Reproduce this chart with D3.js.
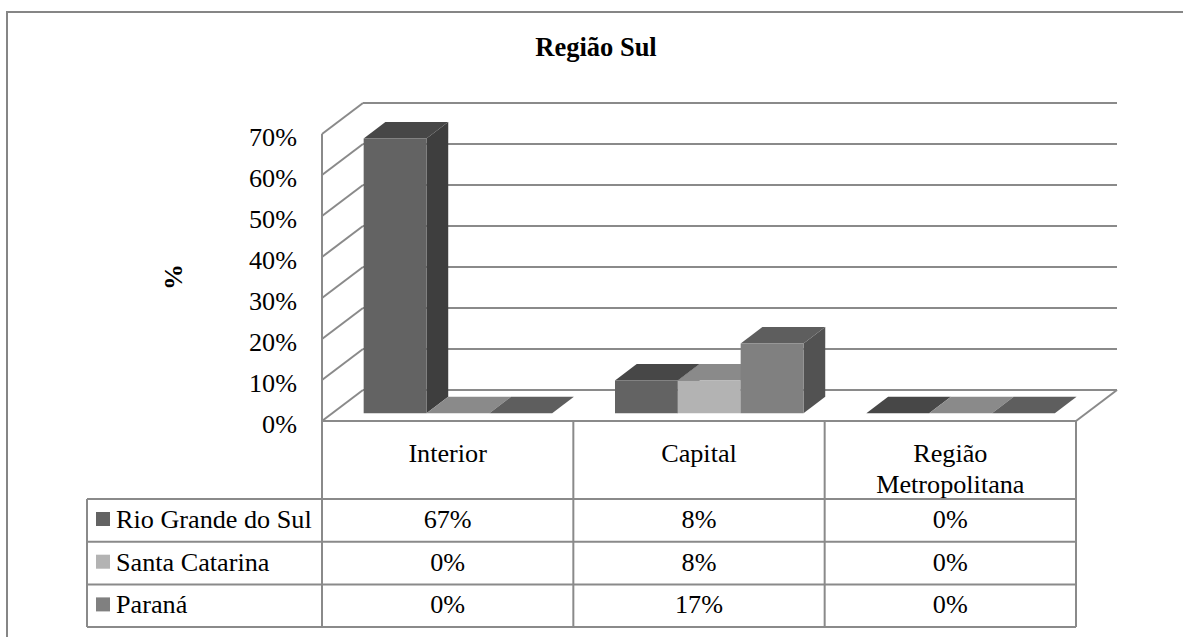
<!DOCTYPE html>
<html>
<head>
<meta charset="utf-8">
<script src="https://cdn.jsdelivr.net/npm/d3@7"></script>
<style>
  html, body { margin: 0; padding: 0; background: #fff; }
  svg { display: block; }
</style>
</head>
<body>
<svg id="chart" width="1183" height="637"></svg>
<script>
// Categories, series and values (shares of the total)
const categories = ["Interior", "Capital", "Região Metropolitana"];
const seriesNames = ["Rio Grande do Sul", "Santa Catarina", "Paraná"];
const rioGrandeDoSul = [0.67, 0.08, 0];
const santaCatarina = [0, 0.08, 0];
const parana = [0, 0.17, 0];
const yTicks = [0, 0.1, 0.2, 0.3, 0.4, 0.5, 0.6, 0.7];
const chartTitle = "Região Sul";
const yAxisTitle = "%";

const seriesValues = [rioGrandeDoSul, santaCatarina, parana];
const frontColors = ["#636363", "#b3b3b3", "#808080"];
const sideColors = ["#3e3e3e", "#8c8c8c", "#525252"];
const topColors = ["#474747", "#8a8a8a", "#5e5e5e"];
const lineColor = "#8a8a8a";
const FONT = "Liberation Serif";
const FS = 26.2;

const svg = d3.select("#chart");
const fmt = d3.format(".0%");
const label = (sel) => sel.append("text").style("font-family", FONT).attr("fill", "#000");

// Front plane of the 3D plot
const plotLeft = 322, plotRight = 1076, floorY = 421;
const DX = 41, DY = 31;           // depth projection of the walls
const fFront = 0.25, fBack = 0.78; // depth slot occupied by bars

const x0 = d3.scaleBand().domain(categories).range([plotLeft, plotRight]).padding(0);
const x1 = d3.scaleBand().domain(seriesNames).range([0, x0.bandwidth()])
  .paddingInner(0).paddingOuter(0.5);
const y = d3.scaleLinear().domain([0, 0.7]).range([floorY, 134]);

// Outer frame
svg.append("rect")
  .attr("x", 7).attr("y", 12).attr("width", 1200).attr("height", 700)
  .attr("fill", "none").attr("stroke", "#868686").attr("stroke-width", 2);

// Title
label(svg)
  .attr("x", 596).attr("y", 56)
  .attr("text-anchor", "middle")
  .attr("font-size", 26.5).attr("font-weight", "bold")
  .text(chartTitle);

// Axis title
label(svg)
  .attr("transform", "translate(182,277) rotate(-90)")
  .attr("text-anchor", "middle")
  .attr("font-size", 26).attr("font-weight", "bold")
  .text(yAxisTitle);

// Walls: back gridlines and left-wall diagonals
const walls = svg.append("g").attr("stroke", lineColor).attr("stroke-width", 2).attr("fill", "none");
yTicks.forEach(t => {
  const yy = y(t);
  walls.append("line")
    .attr("x1", plotLeft + DX).attr("y1", yy - DY)
    .attr("x2", plotRight + DX).attr("y2", yy - DY);
  walls.append("line")
    .attr("x1", plotLeft).attr("y1", yy)
    .attr("x2", plotLeft + DX).attr("y2", yy - DY);
});
// Front vertical axis
walls.append("line")
  .attr("x1", plotLeft).attr("y1", y(0.7))
  .attr("x2", plotLeft).attr("y2", floorY);
// Floor front edge and right diagonal
walls.append("line")
  .attr("x1", plotLeft).attr("y1", floorY)
  .attr("x2", plotRight).attr("y2", floorY);
walls.append("line")
  .attr("x1", plotRight).attr("y1", floorY)
  .attr("x2", plotRight + DX).attr("y2", floorY - DY);

// Y tick labels
const tickG = svg.append("g");
yTicks.forEach(d => {
  label(tickG)
    .attr("x", 297).attr("y", y(d))
    .attr("dy", "0.45em")
    .attr("text-anchor", "end")
    .attr("font-size", FS)
    .text(fmt(d));
});

// 3D bars, drawn left to right so later fronts cover earlier sides
const bars = svg.append("g");
categories.forEach((cat, ci) => {
  seriesNames.forEach((s, si) => {
    const v = seriesValues[si][ci];
    const xl = x0(cat) + x1(s);
    const xr = xl + x1.bandwidth();
    const yb = y(0), yt = y(v);
    const P = (xx, yy, f) => [xx + f * DX, yy - f * DY];
    const g = bars.append("g");
    if (v > 0) {
      g.append("path")
        .attr("d", d3.line()([P(xr, yb, fFront), P(xr, yb, fBack), P(xr, yt, fBack), P(xr, yt, fFront)]) + "Z")
        .attr("fill", sideColors[si]);
    }
    g.append("path")
      .attr("d", d3.line()([P(xl, yt, fFront), P(xl, yt, fBack), P(xr, yt, fBack), P(xr, yt, fFront)]) + "Z")
      .attr("fill", topColors[si]);
    if (v > 0) {
      g.append("path")
        .attr("d", d3.line()([P(xl, yb, fFront), P(xl, yt, fFront), P(xr, yt, fFront), P(xr, yb, fFront)]) + "Z")
        .attr("fill", frontColors[si]);
    }
  });
});

// Data table
const headerTop = floorY, rowTop = 499, rowH = 42.7, legendLeft = 87;
const tableBottom = rowTop + rowH * seriesNames.length;
const grid = svg.append("g").attr("stroke", lineColor).attr("stroke-width", 2);
// Row separators
d3.range(seriesNames.length + 1).forEach(i => {
  const yy = rowTop + rowH * i;
  grid.append("line").attr("x1", legendLeft).attr("x2", plotRight).attr("y1", yy).attr("y2", yy);
});
// Column separators
[plotLeft, ...categories.map(c => x0(c) + x0.bandwidth())].forEach(xx => {
  grid.append("line").attr("x1", xx).attr("x2", xx).attr("y1", headerTop).attr("y2", tableBottom);
});
grid.append("line").attr("x1", legendLeft).attr("x2", legendLeft).attr("y1", rowTop).attr("y2", tableBottom);

// Column headers (wrapped to the cell width)
categories.forEach(cat => {
  const cx = x0(cat) + x0.bandwidth() / 2;
  const t = label(svg)
    .attr("x", cx).attr("y", headerTop + 41)
    .attr("text-anchor", "middle").attr("font-size", FS);
  const words = cat.split(" ");
  let line = [], tspan = t.append("tspan").attr("x", cx).attr("dy", 0);
  words.forEach(w => {
    line.push(w);
    tspan.text(line.join(" "));
    if (tspan.node().getComputedTextLength() > x0.bandwidth() - 40 && line.length > 1) {
      line.pop();
      tspan.text(line.join(" "));
      line = [w];
      tspan = t.append("tspan").attr("x", cx).attr("dy", 31).text(w);
    }
  });
});

// Rows: legend key, series name and values
seriesNames.forEach((s, si) => {
  const top = rowTop + rowH * si;
  svg.append("rect")
    .attr("x", 96).attr("y", top + 13).attr("width", 14).attr("height", 14)
    .attr("fill", frontColors[si]);
  label(svg)
    .attr("x", 116).attr("y", top + 29)
    .attr("font-size", FS)
    .text(s);
  categories.forEach((cat, ci) => {
    label(svg)
      .attr("x", x0(cat) + x0.bandwidth() / 2).attr("y", top + 29)
      .attr("text-anchor", "middle").attr("font-size", FS)
      .text(fmt(seriesValues[si][ci]));
  });
});
</script>
</body>
</html>
